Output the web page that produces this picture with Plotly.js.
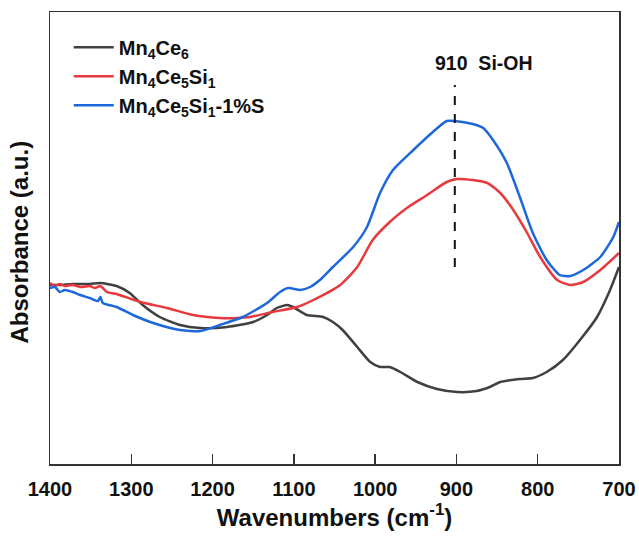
<!DOCTYPE html>
<html>
<head>
<meta charset="utf-8">
<script src="https://cdn.plot.ly/plotly-3.0.1.min.js"></script>
<style>html,body{margin:0;padding:0;background:#fff;}#chart{width:639px;height:539px;}</style>
</head>
<body>
<div id="chart"></div>
<script>
// Wavenumbers (cm-1) and absorbance (a.u.)
const mn4ce6X = [1400,1388,1372,1351,1338,1318,1302,1286,1265,1240,1215,1182,1150,1133,1121,1108,1101,1084,1064,1052,1040,1022,1006,994,982,969,948,924,899,875,859,846,822,806,789,769,748,727,711,700];
const mn4ce6Y = [1.79,1.79,1.80,1.80,1.81,1.78,1.71,1.59,1.47,1.39,1.36,1.37,1.42,1.49,1.56,1.59,1.57,1.49,1.47,1.42,1.34,1.17,1.02,0.97,0.97,0.92,0.82,0.75,0.72,0.73,0.77,0.82,0.85,0.86,0.92,1.04,1.24,1.47,1.74,1.97];

const mn4ce5si1X = [1400,1394,1388,1382,1372,1362,1351,1345,1338,1330,1318,1289,1256,1224,1191,1170,1154,1126,1096,1076,1043,1022,1003,982,961,936,912,899,880,862,846,830,813,797,776,760,744,723,700];
const mn4ce5si1Y = [1.81,1.78,1.80,1.78,1.79,1.77,1.78,1.76,1.78,1.72,1.70,1.62,1.56,1.49,1.46,1.46,1.47,1.52,1.57,1.64,1.79,1.97,2.24,2.42,2.56,2.69,2.82,2.85,2.84,2.81,2.71,2.54,2.31,2.07,1.84,1.79,1.82,1.94,2.11];

const mn4ce5si1SX = [1400,1394,1388,1382,1372,1363,1351,1341,1338,1335,1318,1298,1273,1240,1215,1191,1163,1133,1117,1107,1092,1080,1068,1052,1027,1010,994,978,953,929,912,902,880,867,855,838,822,806,789,773,760,744,723,707,700];
const mn4ce5si1SY = [1.76,1.77,1.72,1.74,1.72,1.69,1.66,1.63,1.67,1.61,1.57,1.49,1.41,1.34,1.33,1.39,1.47,1.61,1.72,1.76,1.74,1.77,1.84,1.97,2.17,2.37,2.71,2.94,3.14,3.32,3.43,3.43,3.40,3.36,3.24,3.01,2.67,2.31,2.04,1.89,1.88,1.94,2.07,2.27,2.42];

const xTicks = [1400,1300,1200,1100,1000,900,800,700];
const seriesNames = ['Mn<sub>4</sub>Ce<sub>6</sub>','Mn<sub>4</sub>Ce<sub>5</sub>Si<sub>1</sub>','Mn<sub>4</sub>Ce<sub>5</sub>Si<sub>1</sub>-1%S'];
const peakX = 902;
const peakLineY = [1.97, 3.79];
const peakLabel = '910  Si-OH';
const xTitle = 'Wavenumbers (cm<sup>-1</sup>)';
const yTitle = 'Absorbance (a.u.)';

const colors = ['#404040','#e8393e','#1c67da'];
const font = 'Liberation Sans, Arial, sans-serif';

const traces = [
  {x: mn4ce6X, y: mn4ce6Y, name: seriesNames[0]},
  {x: mn4ce5si1X, y: mn4ce5si1Y, name: seriesNames[1]},
  {x: mn4ce5si1SX, y: mn4ce5si1SY, name: seriesNames[2]}
].map((t,i)=>Object.assign(t,{type:'scatter',mode:'lines',line:{color:colors[i],width:2.5,shape:'spline',smoothing:0.6}}));

const layout = {
  width:639, height:539,
  margin:{l:50,r:20,t:12,b:75},
  paper_bgcolor:'#fff', plot_bgcolor:'#fff',
  font:{family:font,color:'#111'},
  showlegend:true,
  legend:{x:0.033,y:0.965,xanchor:'left',yanchor:'top',bgcolor:'rgba(0,0,0,0)',font:{family:font,size:20,color:'#111',weight:'bold'},tracegroupgap:0,itemwidth:40},
  xaxis:{range:[1400,700],autorange:false,tickvals:xTicks,ticktext:xTicks.map(String),ticks:'inside',ticklen:10,tickwidth:1.5,tickcolor:'#333',
    showline:true,mirror:true,linecolor:'#333',linewidth:1.5,showgrid:false,zeroline:false,ticklabelstandoff:6,
    tickfont:{family:font,size:20,color:'#111',weight:'bold'},
    title:{text:xTitle,font:{family:font,size:24,color:'#111',weight:'bold'},standoff:10}},
  yaxis:{range:[0,4.52],autorange:false,showticklabels:false,ticks:'',showline:true,mirror:true,linecolor:'#333',linewidth:1.5,showgrid:false,zeroline:false},
  shapes:[{type:'line',xref:'x',yref:'y',x0:peakX,x1:peakX,y0:peakLineY[0],y1:peakLineY[1],line:{color:'#111',width:2,dash:'dash'}}],
  annotations:[
    {xref:'x',yref:'y',x:peakX,y:peakLineY[1],xanchor:'left',yanchor:'bottom',xshift:-22,yshift:9,text:peakLabel,showarrow:false,font:{family:font,size:19.5,color:'#111',weight:'bold'}},
    {xref:'paper',yref:'paper',x:-0.0527,y:0.49,xanchor:'center',yanchor:'middle',textangle:-90,text:yTitle,showarrow:false,font:{family:font,size:24,color:'#111',weight:'bold'}}
  ]
};
Plotly.newPlot('chart',traces,layout,{displayModeBar:false,staticPlot:true});
</script>
</body>
</html>
